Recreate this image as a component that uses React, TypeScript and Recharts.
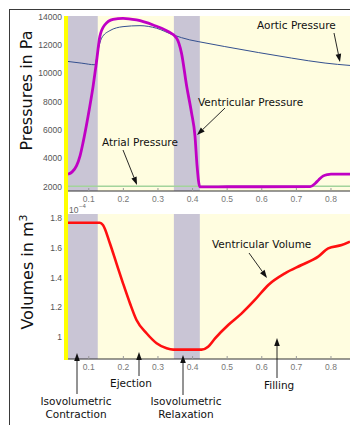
import React from 'react';
import { ComposedChart, Line, XAxis, YAxis, ReferenceArea } from 'recharts';

// time axis (s)
const timeDomain = [0.04, 0.855];
const timeTicks = [0.1, 0.2, 0.3, 0.4, 0.5, 0.6, 0.7, 0.8];
const isoPhases = [
    [0.04, 0.126],
    [0.346, 0.421],
];

// pressures (Pa)
const pressureDomain = [1700, 14050];
const pressureTicks = [2000, 4000, 6000, 8000, 10000, 12000, 14000];

const ventTime = [0.04, 0.052, 0.0645, 0.075, 0.0836, 0.098, 0.1125, 0.122, 0.132, 0.146, 0.17, 0.199, 0.238, 0.286, 0.325, 0.354, 0.368, 0.383, 0.397, 0.407, 0.413, 0.421, 0.5, 0.6, 0.74, 0.755, 0.765, 0.778, 0.79, 0.8, 0.855];
const ventPressure = [2890, 3050, 3470, 4200, 5134, 6980, 9086, 10750, 12596, 13417, 13817, 13888, 13768, 13417, 13017, 12480, 11430, 9086, 7219, 5576, 3470, 1990, 2000, 2000, 2010, 2250, 2500, 2768, 2860, 2887, 2887];

const aorticTime = [0.04, 0.08, 0.1175, 0.127, 0.137, 0.161, 0.199, 0.248, 0.296, 0.344, 0.392, 0.416, 0.493, 0.59, 0.686, 0.783, 0.855];
const aorticPressure = [10841, 10720, 10609, 11662, 12484, 13017, 13298, 13368, 13185, 12715, 12364, 12245, 11894, 11473, 11080, 10729, 10560];

const atrialTime = [0.04, 0.855];
const atrialPressure = [2040, 2040];

// volumes (1e-4 m^3)
const volumeDomain = [0.852, 1.827];
const volumeTicks = [1, 1.2, 1.4, 1.6, 1.8];

const volumeTime = [0.04, 0.132, 0.141, 0.161, 0.18, 0.199, 0.219, 0.238, 0.267, 0.296, 0.325, 0.344, 0.426, 0.445, 0.465, 0.503, 0.542, 0.58, 0.619, 0.667, 0.715, 0.763, 0.792, 0.831, 0.855];
const ventVolume = [1.768, 1.768, 1.753, 1.63, 1.495, 1.361, 1.227, 1.114, 1.025, 0.958, 0.924, 0.915, 0.915, 0.935, 0.991, 1.081, 1.159, 1.249, 1.35, 1.428, 1.484, 1.54, 1.596, 1.618, 1.641];

const zip = (ts: number[], vs: number[]) => ts.map((t, i) => ({ t, v: vs[i] }));

const PLOT_BG = '#fffde0';
const BAND = '#c9c5d5';
const FONT = "'DejaVu Sans', Verdana, sans-serif";

const Arrow = ({ x1, y1, x2, y2 }: any) => {
    const a = Math.atan2(y2 - y1, x2 - x1);
    const L = 8, W = 2.8;
    const bx = x2 - L * Math.cos(a), by = y2 - L * Math.sin(a);
    const px = -Math.sin(a) * W, py = Math.cos(a) * W;
    return (
        <g>
            <line x1={x1} y1={y1} x2={bx} y2={by} stroke="#111" strokeWidth={0.9} />
            <polygon points={`${x2},${y2} ${bx + px},${by + py} ${bx - px},${by - py}`} fill="#111" />
        </g>
    );
};

const labels = [
    { text: 'Aortic Pressure', x: 257, y: 29, anchor: 'start' },
    { text: 'Ventricular Pressure', x: 198, y: 106, anchor: 'start' },
    { text: 'Atrial Pressure', x: 102, y: 146, anchor: 'start' },
    { text: 'Ventricular Volume', x: 212, y: 248, anchor: 'start' },
    { text: 'Ejection', x: 110, y: 387, anchor: 'start' },
    { text: 'Filling', x: 264, y: 389, anchor: 'start' },
    { text: 'Isovolumetric', x: 76, y: 405, anchor: 'middle' },
    { text: 'Contraction', x: 76, y: 418, anchor: 'middle' },
    { text: 'Isovolumetric', x: 186, y: 405, anchor: 'middle' },
    { text: 'Relaxation', x: 186, y: 418, anchor: 'middle' },
];

const arrows = [
    [334, 33, 340, 62],
    [225, 108, 197, 135],
    [123, 150, 137, 185],
    [249, 253, 267, 278],
    [139, 376, 139, 352],
    [77, 394, 77, 353],
    [183, 395, 183, 355],
    [277, 378, 277, 338],
];

const fmtTime = (v: number) => v.toFixed(1);

export default function App() {
    const ventData = zip(ventTime, ventPressure);
    const aorticData = zip(aorticTime, aorticPressure);
    const atrialData = zip(atrialTime, atrialPressure);
    const volumeData = zip(volumeTime, ventVolume);

    const xTick = { fontSize: 8.5, fill: '#777', fontFamily: "'Liberation Sans', Arial, sans-serif" };
    const yTick = { fontSize: 8.5, fill: '#555', fontFamily: "'Liberation Sans', Arial, sans-serif" };

    return (
        <div style={{ position: 'fixed', left: 0, top: 0, width: 350, height: 425, overflow: 'hidden', background: '#fff' }}>
            {/* pressures */}
            <div style={{ position: 'absolute', left: 0, top: 0 }}>
                <ComposedChart width={350} height={210} margin={{ top: 16, right: 0, left: 0, bottom: 0 }}>
                    <XAxis
                        dataKey="t" type="number" domain={timeDomain} ticks={timeTicks} allowDataOverflow
                        tickFormatter={fmtTime} height={19} tick={xTick}
                        tickSize={-3} tickMargin={8} stroke="#333" tickLine={{ stroke: '#999' }}
                    />
                    <YAxis
                        type="number" domain={pressureDomain} ticks={pressureTicks} allowDataOverflow
                        width={68} axisLine={false} tickLine={false} tickSize={4} tickMargin={2} tick={yTick}
                    />
                    <ReferenceArea x1={timeDomain[0]} x2={timeDomain[1]} y1={pressureDomain[0]} y2={pressureDomain[1]} fill={PLOT_BG} fillOpacity={1} stroke="none" ifOverflow="hidden" />
                    {isoPhases.map(([a, b], i) => (
                        <ReferenceArea key={i} x1={a} x2={b} y1={pressureDomain[0]} y2={pressureDomain[1]} fill={BAND} fillOpacity={1} stroke="none" ifOverflow="hidden" />
                    ))}
                    <Line data={atrialData} dataKey="v" type="linear" stroke="#a3d49c" strokeWidth={1.6} dot={false} isAnimationActive={false} />
                    <Line data={aorticData} dataKey="v" type="monotone" stroke="#34508f" strokeWidth={1} dot={false} isAnimationActive={false} />
                    <Line data={ventData} dataKey="v" type="monotone" stroke="#c000c4" strokeWidth={2.8} dot={false} isAnimationActive={false} />
                </ComposedChart>
            </div>

            {/* volumes */}
            <div style={{ position: 'absolute', left: 0, top: 200 }}>
                <ComposedChart width={350} height={180} margin={{ top: 14, right: 0, left: 0, bottom: 0 }}>
                    <XAxis
                        dataKey="t" type="number" domain={timeDomain} ticks={timeTicks} allowDataOverflow
                        tickFormatter={fmtTime} height={21} tick={xTick}
                        tickSize={-3} tickMargin={8} stroke="#333" tickLine={{ stroke: '#999' }}
                    />
                    <YAxis
                        type="number" domain={volumeDomain} ticks={volumeTicks} allowDataOverflow
                        tickFormatter={(v: number) => (v === 1 ? '1' : v.toFixed(1))}
                        width={68} axisLine={false} tickLine={false} tickSize={4} tickMargin={2} tick={yTick}
                    />
                    <ReferenceArea x1={timeDomain[0]} x2={timeDomain[1]} y1={volumeDomain[0]} y2={volumeDomain[1]} fill={PLOT_BG} fillOpacity={1} stroke="none" ifOverflow="hidden" />
                    {isoPhases.map(([a, b], i) => (
                        <ReferenceArea key={i} x1={a} x2={b} y1={volumeDomain[0]} y2={volumeDomain[1]} fill={BAND} fillOpacity={1} stroke="none" ifOverflow="hidden" />
                    ))}
                    <Line data={volumeData} dataKey="v" type="monotone" stroke="#ff1010" strokeWidth={2.6} dot={false} isAnimationActive={false} />
                </ComposedChart>
            </div>

            {/* frame, titles and annotations */}
            <svg width={350} height={425} style={{ position: 'absolute', left: 0, top: 0, pointerEvents: 'none' }} fontFamily={FONT}>
                <line x1={9} y1={9.5} x2={350} y2={9.5} stroke="#3a3a3a" strokeWidth={1} />
                <line x1={9.5} y1={9} x2={9.5} y2={425} stroke="#3a3a3a" strokeWidth={1} />
                <rect x={64} y={16} width={4} height={344} fill="#ffff00" />

                <text transform="translate(32,90.5) rotate(-90)" textAnchor="middle" fontSize={16} fill="#111">Pressures in Pa</text>
                <text transform="translate(33,272) rotate(-90)" textAnchor="middle" fontSize={16} fill="#111">
                    Volumes in m<tspan dy={-6} fontSize={11}>3</tspan>
                </text>

                <text x={69} y={213} fontSize={8.5} fill="#666" fontFamily="'Liberation Sans', Arial, sans-serif">10</text>
                <text x={79} y={208} fontSize={6} fill="#666" fontFamily="'Liberation Sans', Arial, sans-serif">−4</text>

                {labels.map((l, i) => (
                    <text key={i} x={l.x} y={l.y} textAnchor={l.anchor as any} fontSize={10.5} fill="#111">{l.text}</text>
                ))}
                {arrows.map(([x1, y1, x2, y2], i) => (
                    <Arrow key={i} x1={x1} y1={y1} x2={x2} y2={y2} />
                ))}
            </svg>
        </div>
    );
}
